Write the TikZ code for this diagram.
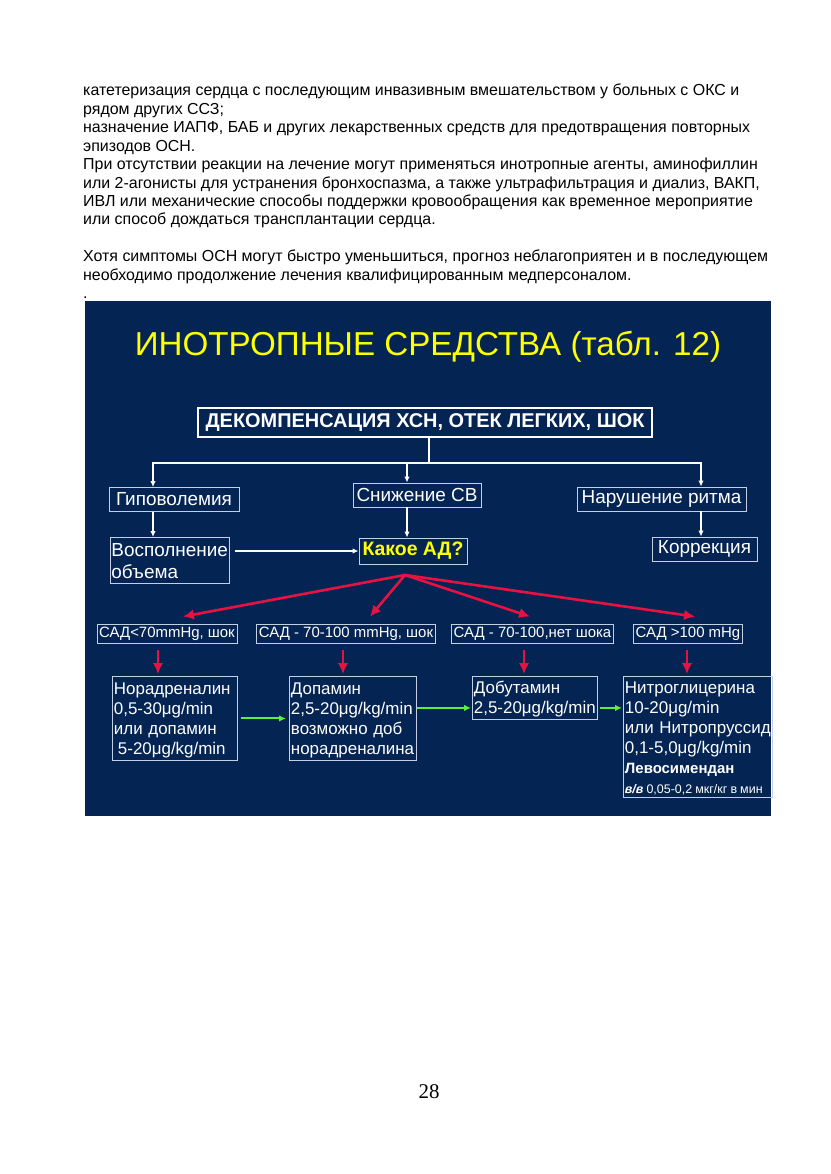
\documentclass[tikz,border=0pt]{standalone}
\usepackage{fontspec}
\setmainfont{Liberation Sans}
\newfontfamily\pagefont{Liberation Serif}
\usepackage{xcolor}
\usepackage{tikz}
\usetikzlibrary{positioning, arrows.meta, calc}
\definecolor{slidenavy}{RGB}{4, 36, 84}
\definecolor{boxline}{RGB}{195, 208, 228}
\definecolor{alarmred}{RGB}{232, 18, 66}
\definecolor{okgreen}{RGB}{92, 240, 60}
\definecolor{titleyellow}{RGB}{255, 255, 0}

\begin{document}
\begin{tikzpicture}[x=1bp, y=-1bp,
  box/.style={rectangle, draw=boxline, line width=0.9bp, text=white,
    inner xsep=2bp, inner ysep=1bp, font=\fontsize{19}{22}\selectfont},
  sbpbox/.style={box, minimum height=19bp, font=\fontsize{15}{17}\selectfont},
  drugbox/.style={box, anchor=north west, align=left, inner xsep=1.5bp, inner ysep=2bp,
    font=\fontsize{17}{20}\selectfont},
  wline/.style={line width=2.4bp, draw=white},
  wlink/.style={-{Latex[length=6bp,width=5.5bp]}, line width=1.6bp, draw=white},
  rlink/.style={-{Latex[length=11bp,width=10.5bp]}, line width=2.6bp, draw=alarmred},
  glink/.style={-{Latex[length=7bp,width=6.5bp]}, line width=2bp, draw=okgreen}
]
  \useasboundingbox[fill=white] (0,0) rectangle (831,1174);

  \node[anchor=north west, inner sep=0pt, align=left,
    font=\fontsize{16}{18.5}\selectfont] (intro) at (83,84)
    {катетеризация сердца с последующим инвазивным вмешательством у больных с ОКС и\\
     рядом других ССЗ;\\
     назначение ИАПФ, БАБ и других лекарственных средств для предотвращения повторных\\
     эпизодов ОСН.\\
     При отсутствии реакции на лечение могут применяться инотропные агенты, аминофиллин\\
     или 2-агонисты для устранения бронхоспазма, а также ультрафильтрация и диализ, ВАКП,\\
     ИВЛ или механические способы поддержки кровообращения как временное мероприятие\\
     или способ дождаться трансплантации сердца.\\[18.5bp]
     Хотя симптомы ОСН могут быстро уменьшиться, прогноз неблагоприятен и в последующем\\
     необходимо продолжение лечения квалифицированным медперсоналом.\\
     .};

  \fill[slidenavy] (85,301) rectangle (771,816);
  \node[text=titleyellow, font=\fontsize{33.3}{37}\selectfont] (title) at (428,347)
    {ИНОТРОПНЫЕ СРЕДСТВА (табл. 12)};

  \node[box, line width=2.5bp, draw=white, minimum width=454bp, minimum height=29bp,
    font=\fontsize{20}{22}\selectfont\bfseries] (decomp) at (425,422.5)
    {ДЕКОМПЕНСАЦИЯ ХСН, ОТЕК ЛЕГКИХ, ШОК};
  \node[box, minimum width=130bp, minimum height=24bp] (hypo) at (174,499.5) {Гиповолемия};
  \node[box, minimum width=128bp, minimum height=24bp] (lowco) at (417,495) {Снижение СВ};
  \node[box, minimum width=169bp, minimum height=24bp] (rhythm) at (661.5,499) {Нарушение ритма};
  \node[box, anchor=north west, align=left, text width=117bp, minimum height=46bp,
    inner xsep=1bp, font=\fontsize{19}{22}\selectfont] (refill) at (110,537)
    {\rule{0pt}{15bp}Восполнение\\объема};
  \node[box, minimum width=108bp, minimum height=26bp, text=titleyellow,
    font=\fontsize{19.5}{22}\selectfont\bfseries] (whatbp) at (413,551) {Какое АД?};
  \node[box, minimum width=105bp, minimum height=24bp] (corr) at (704.5,549) {Коррекция};
  \coordinate (split) at (429,463);
  \coordinate (fork) at (405,575);

  \node[sbpbox, minimum width=140bp] (sbp1) at (167,633.5) {САД<70mmHg, шок};
  \node[sbpbox, minimum width=178bp] (sbp2) at (346,633.5) {САД - 70-100 mmHg, шок};
  \node[sbpbox, minimum width=161bp] (sbp3) at (532.5,633.5) {САД - 70-100,нет шока};
  \node[sbpbox, minimum width=108bp] (sbp4) at (688,633.5) {САД >100 mHg};

  \node[drugbox, text width=122bp, minimum height=84bp] (drug1) at (112,676)
    {\rule{0pt}{15.5bp}Норадреналин\\0,5-30μg/min\\или допамин\\\hspace*{4bp}5-20μg/kg/min};
  \node[drugbox, text width=124bp, minimum height=84bp] (drug2) at (289,676)
    {\rule{0pt}{15.5bp}Допамин\\2,5-20μg/kg/min\\возможно доб\\норадреналина};
  \node[drugbox, text width=122bp, minimum height=42bp] (drug3) at (472,676)
    {\rule{0pt}{15.5bp}Добутамин\\\mbox{2,5-20μg/kg/min}};
  \node[drugbox, text width=146bp, minimum height=117bp] (drug4) at (623,676)
    {\rule{0pt}{15.5bp}Нитроглицерина\\10-20μg/min\\\mbox{или Нитропруссид}\\0,1-5,0μg/kg/min\\
     {\fontsize{15}{19}\selectfont\bfseries Левосимендан}\\
     {\fontsize{12.5}{17}\selectfont\spaceskip=0.25em\mbox{{\bfseries\itshape в/в} 0,05-0,2 мкг/кг в мин}}};

  \node[font=\pagefont\fontsize{21}{24}\selectfont] (pagenum) at (429,1092) {28};

  \draw[wline] (decomp.south -| split) -- (split);
  \draw[wlink] (split) -| ([xshift=-21bp]hypo.north);
  \draw[wlink] (split) -| ([xshift=-10bp]lowco.north);
  \draw[wlink] (split) -| ([xshift=39.5bp]rhythm.north);
  \draw[wlink] ([xshift=-21bp]hypo.south) -- ([xshift=-21bp]hypo.south |- refill.north);
  \draw[wlink] ([xshift=-10bp]lowco.south) -- ([xshift=-10bp]lowco.south |- whatbp.north);
  \draw[wlink] ([xshift=39.5bp]rhythm.south) -- ([xshift=39.5bp]rhythm.south |- corr.north);
  \draw[wlink, shorten <=5bp] (refill.east |- whatbp.west) -- (whatbp.west);

  \draw[rlink] (fork) -- ([xshift=16bp,yshift=7bp]sbp1.north);
  \draw[rlink] (fork) -- ([xshift=24bp,yshift=7bp]sbp2.north);
  \draw[rlink] (fork) -- ([xshift=-2.5bp,yshift=7bp]sbp3.north);
  \draw[rlink] (fork) -- ([xshift=7bp,yshift=7bp]sbp4.north);
  \draw[rlink, shorten <=7bp, shorten >=2bp] ([xshift=-9bp]sbp1.south) -- ([xshift=-9bp]sbp1.south |- drug1.north);
  \draw[rlink, shorten <=7bp, shorten >=2bp] ([xshift=-3bp]sbp2.south) -- ([xshift=-3bp]sbp2.south |- drug2.north);
  \draw[rlink, shorten <=7bp, shorten >=2bp] ([xshift=-8.5bp]sbp3.south) -- ([xshift=-8.5bp]sbp3.south |- drug3.north);
  \draw[rlink, shorten <=7bp, shorten >=2bp] ([xshift=-1bp]sbp4.south) -- ([xshift=-1bp]sbp4.south |- drug4.north);

  \draw[glink, shorten <=3bp, shorten >=3bp] (drug1.east) -- (drug1.east -| drug2.west);
  \draw[glink, shorten >=1bp] ([yshift=-10bp]drug3.west -| drug2.east) -- ([yshift=-10bp]drug3.west);
  \draw[glink, shorten <=2bp, shorten >=1bp] ([yshift=-10bp]drug3.east) -- ([yshift=-10bp]drug3.east -| drug4.west);
\end{tikzpicture}
\end{document}
